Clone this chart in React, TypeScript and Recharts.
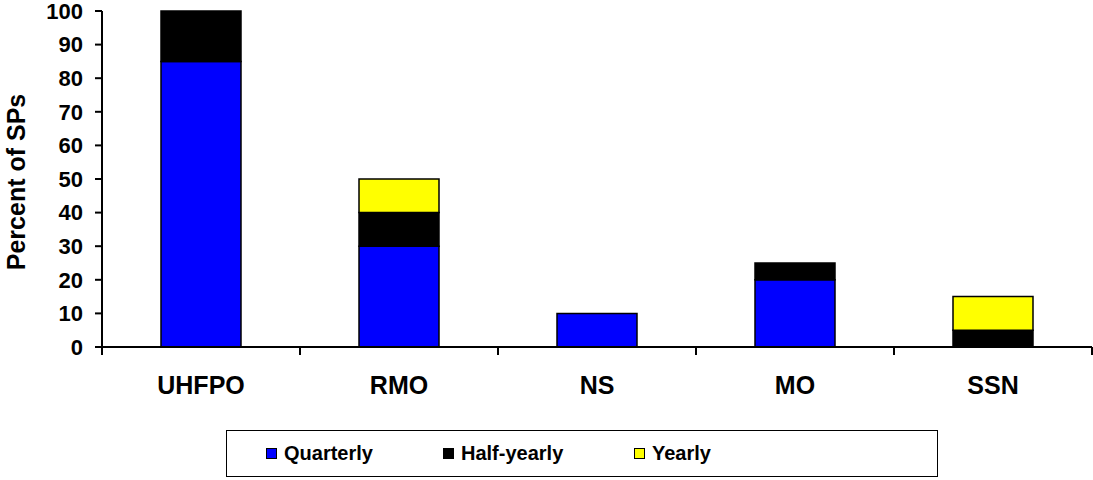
import React from "react";
import {
  BarChart,
  Bar,
  XAxis,
  YAxis,
  Legend,
} from "recharts";

const categories = ["UHFPO", "RMO", "NS", "MO", "SSN"];
const quarterly = [85, 30, 10, 20, 0];
const halfYearly = [15, 10, 0, 5, 5];
const yearly = [0, 10, 0, 0, 10];
const yTicks = [0, 10, 20, 30, 40, 50, 60, 70, 80, 90, 100];

const seriesInfo = [
  { key: "quarterly", label: "Quarterly", color: "#0000FF" },
  { key: "halfYearly", label: "Half-yearly", color: "#000000" },
  { key: "yearly", label: "Yearly", color: "#FFFF00" },
];

const data = categories.map((name, i) => ({
  name,
  quarterly: quarterly[i],
  halfYearly: halfYearly[i],
  yearly: yearly[i],
}));

const FONT = '"Liberation Sans", Arial, sans-serif';
const CHART_W = 1093;
const MARGIN = { top: 11, right: 1, bottom: 0, left: 0 };
const Y_AXIS_W = 102;
// width of one category band on the x axis
const BAND = (CHART_W - MARGIN.left - MARGIN.right - Y_AXIS_W) / categories.length;

const legendItemX = [39, 216, 407];

const LegendBox = () => (
  <div
    style={{
      position: "relative",
      width: 712,
      height: 47,
      boxSizing: "border-box",
      border: "1.5px solid #000",
      background: "#fff",
      fontFamily: FONT,
      fontWeight: "bold",
      fontSize: 20,
      color: "#000",
    }}
  >
    {seriesInfo.map((s, i) => (
      <div
        key={s.key}
        style={{
          position: "absolute",
          left: legendItemX[i],
          top: 0,
          height: 44,
          display: "flex",
          alignItems: "center",
          whiteSpace: "nowrap",
        }}
      >
        <span
          style={{
            display: "inline-block",
            width: 9,
            height: 9,
            background: s.color,
            border: "1px solid #000",
            marginRight: 7,
          }}
        />
        <span>{s.label}</span>
      </div>
    ))}
  </div>
);

const CategoryTick = (props: any) => {
  const { x, y, payload, index } = props;
  const left = x - BAND / 2;
  const right = x + BAND / 2;
  return (
    <g>
      <line x1={left} x2={left} y1={y} y2={y + 8} stroke="#000" strokeWidth={2} />
      {index === categories.length - 1 && (
        <line x1={right} x2={right} y1={y} y2={y + 8} stroke="#000" strokeWidth={2} />
      )}
      <text
        x={x}
        y={y + 47}
        textAnchor="middle"
        fontFamily={FONT}
        fontWeight="bold"
        fontSize={25}
        fill="#000"
      >
        {payload.value}
      </text>
    </g>
  );
};

const YLabel = (props: any) => {
  const vb = props.viewBox || { y: 11, height: 336 };
  const cy = vb.y + vb.height / 2 + 3;
  return (
    <text
      x={16}
      y={cy}
      transform={`rotate(-90, 16, ${cy})`}
      textAnchor="middle"
      dominantBaseline="central"
      fontFamily={FONT}
      fontWeight="bold"
      fontSize={25}
      fill="#000"
    >
      Percent of SPs
    </text>
  );
};

export default function App() {
  return (
    <div style={{ position: "absolute", left: 0, top: 0, background: "#fff" }}>
      <BarChart
        width={CHART_W}
        height={480}
        data={data}
        margin={MARGIN}
        barCategoryGap={0}
      >
        <XAxis
          dataKey="name"
          height={133}
          tickLine={false}
          tickSize={0}
          tickMargin={0}
          axisLine={{ stroke: "#000", strokeWidth: 2 }}
          tick={<CategoryTick />}
          interval={0}
        />
        <XAxis
          xAxisId="top"
          orientation="top"
          dataKey="name"
          height={0}
          tick={false}
          tickLine={false}
          axisLine={{ stroke: "#000", strokeWidth: 2 }}
        />
        <YAxis
          width={Y_AXIS_W}
          domain={[0, 100]}
          ticks={yTicks}
          interval={0}
          tickSize={7}
          tickMargin={12}
          tickLine={{ stroke: "#000", strokeWidth: 2 }}
          axisLine={{ stroke: "#000", strokeWidth: 2 }}
          tick={{
            fill: "#000",
            fontFamily: FONT,
            fontWeight: "bold",
            fontSize: 22,
          }}
          label={<YLabel />}
        />
        <YAxis
          yAxisId="right"
          orientation="right"
          width={0}
          domain={[0, 100]}
          tick={false}
          tickLine={false}
          axisLine={{ stroke: "#000", strokeWidth: 2 }}
        />
        <Legend
          layout="horizontal"
          verticalAlign="middle"
          align="center"
          wrapperStyle={{ left: 226, top: 430, width: 712, height: 47 }}
          content={() => <LegendBox />}
        />
        {seriesInfo.map((s) => (
          <Bar
            key={s.key}
            dataKey={s.key}
            name={s.label}
            stackId="a"
            fill={s.color}
            stroke="#000"
            strokeWidth={1.5}
            barSize={80}
            isAnimationActive={false}
          />
        ))}
      </BarChart>
    </div>
  );
}
